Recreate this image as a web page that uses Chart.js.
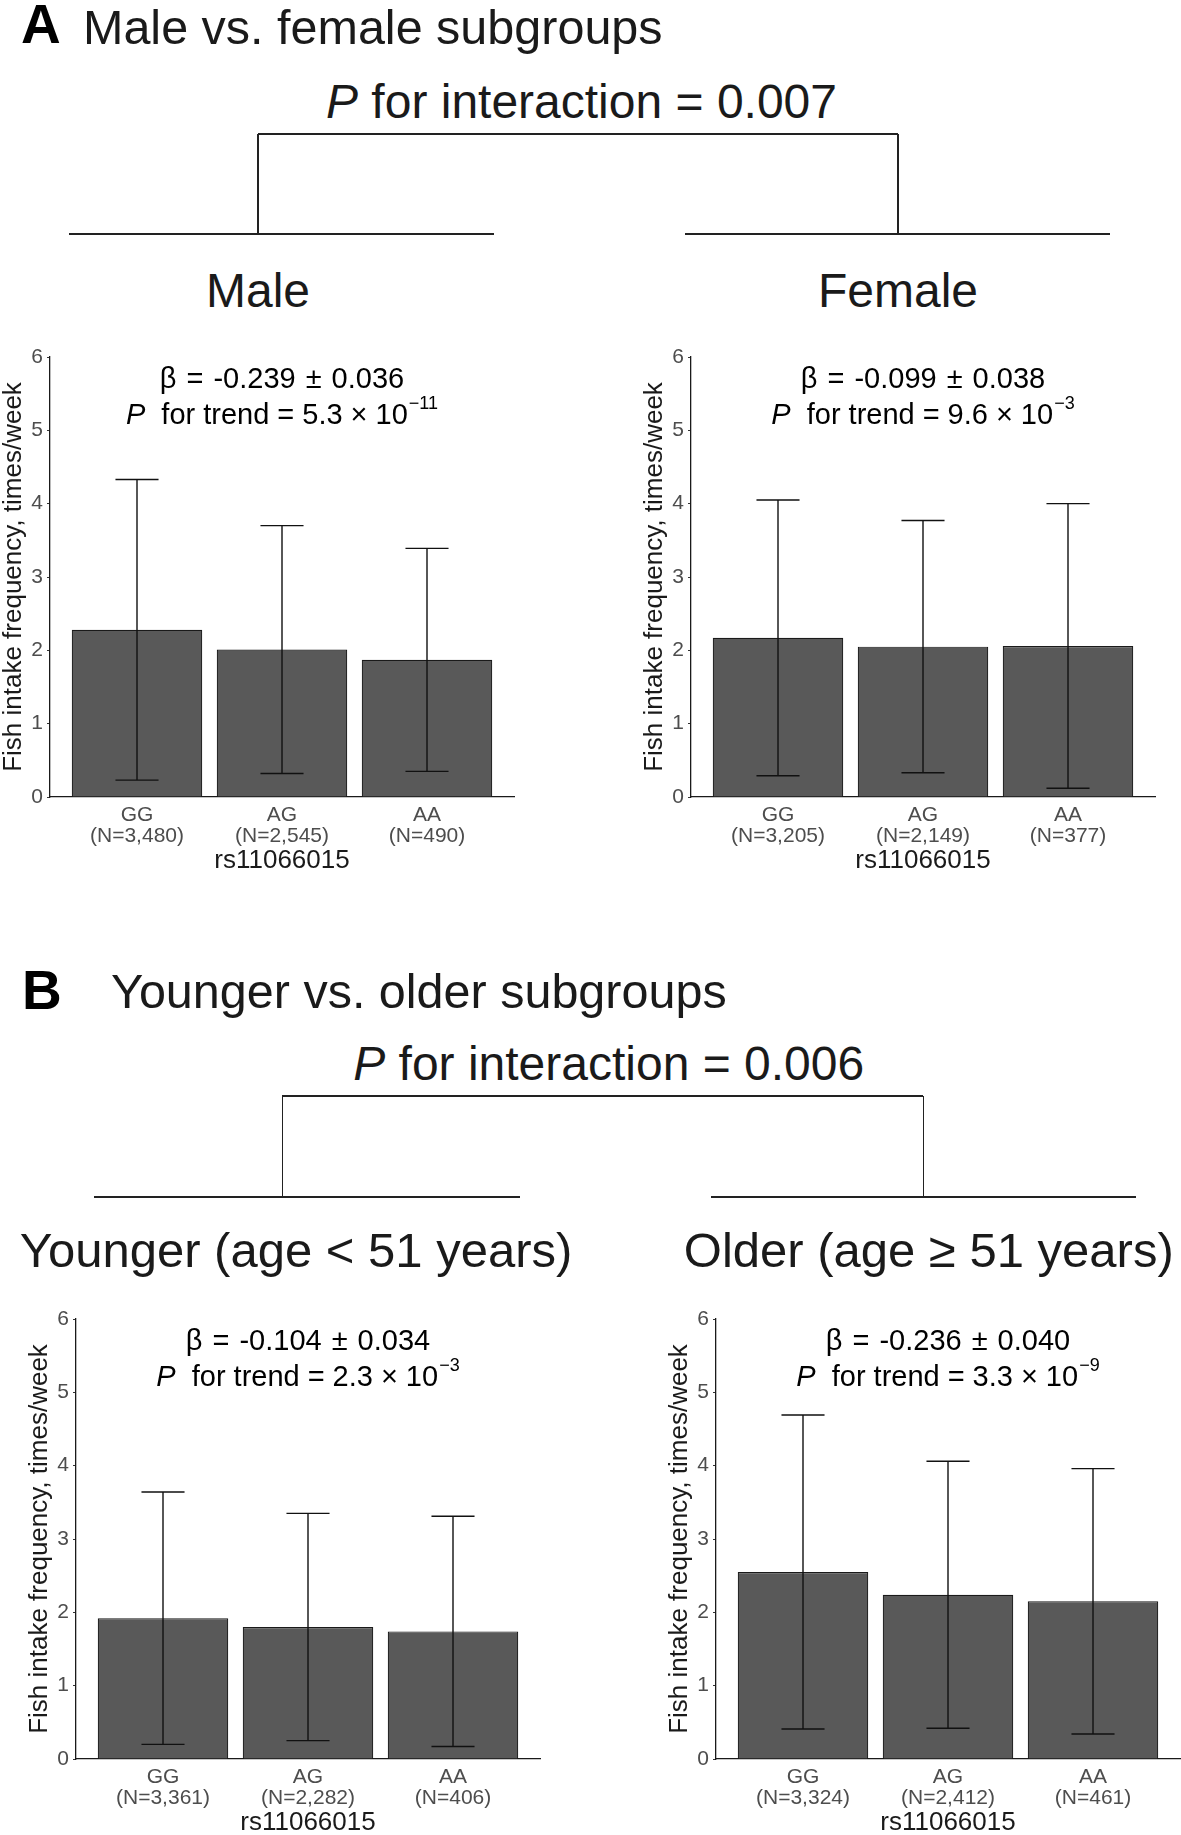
<!DOCTYPE html>
<html>
<head>
<meta charset="utf-8">
<script src="https://cdn.jsdelivr.net/npm/chart.js@4.4.0/dist/chart.umd.min.js"></script>
<style>
html,body{margin:0;padding:0;background:#fff;overflow:hidden;}
#page{position:relative;width:1181px;height:1835px;background:#fff;font-family:"Liberation Sans",Arial,sans-serif;color:#1a1a1a;overflow:hidden;}
.t{position:absolute;white-space:nowrap;line-height:1;font-size:48px;}
.c{transform:translateX(-50%);}
.b{font-weight:bold;font-size:55px;color:#000;}
.ln{position:absolute;background:#222;}
canvas{position:absolute;}
</style>
</head>
<body>
<div id="page">
  <div class="t b" style="left:21px;top:-3px;">A</div>
  <div class="t" style="left:83px;top:3px;font-size:48.5px;">Male vs. female subgroups</div>
  <div class="t c" style="left:581.5px;top:77.7px;"><i>P</i> for interaction = 0.007</div>
  <div class="ln" style="left:257.6px;top:133.3px;width:640.2px;height:2px;"></div>
  <div class="ln" style="left:257px;top:134px;width:1.5px;height:100px;"></div>
  <div class="ln" style="left:897.2px;top:134px;width:1.5px;height:100px;"></div>
  <div class="ln" style="left:69.3px;top:233.3px;width:424.7px;height:2px;"></div>
  <div class="ln" style="left:685.4px;top:233.3px;width:424.6px;height:2px;"></div>
  <div class="t c" style="left:258px;top:267.4px;">Male</div>
  <div class="t c" style="left:898px;top:267.4px;">Female</div>

  <div class="t b" style="left:22px;top:963px;">B</div>
  <div class="t" style="left:111px;top:967.4px;font-size:48.5px;">Younger vs. older subgroups</div>
  <div class="t c" style="left:608.7px;top:1040.4px;"><i>P</i> for interaction = 0.006</div>
  <div class="ln" style="left:282.4px;top:1095px;width:641px;height:2px;"></div>
  <div class="ln" style="left:281.7px;top:1096px;width:1.5px;height:100px;"></div>
  <div class="ln" style="left:922.7px;top:1096px;width:1.5px;height:100px;"></div>
  <div class="ln" style="left:94px;top:1195.7px;width:425.7px;height:2px;"></div>
  <div class="ln" style="left:711px;top:1195.7px;width:424.8px;height:2px;"></div>
  <div class="t c" style="left:296px;top:1226px;font-size:49px;">Younger (age &lt; 51 years)</div>
  <div class="t c" style="left:928.8px;top:1226px;font-size:49px;">Older (age ≥ 51 years)</div>
</div>
<script>
// ---------- data ----------
const genotypes = ['GG', 'AG', 'AA'];
const xPositions = [1, 2, 3];
const yTicks = [0, 1, 2, 3, 4, 5, 6];
const xAxisTitle = 'rs11066015';
const yAxisTitle = 'Fish intake frequency, times/week';

const maleN = ['3,480', '2,545', '490'];
const maleMean = [2.28, 2.01, 1.87];
const maleSD = [2.05, 1.69, 1.52];

const femaleN = ['3,205', '2,149', '377'];
const femaleMean = [2.17, 2.05, 2.06];
const femaleSD = [1.88, 1.72, 1.94];

const youngerN = ['3,361', '2,282', '406'];
const youngerMean = [1.92, 1.80, 1.74];
const youngerSD = [1.72, 1.55, 1.57];

const olderN = ['3,324', '2,412', '461'];
const olderMean = [2.55, 2.24, 2.15];
const olderSD = [2.14, 1.82, 1.81];

const betaEst = ['-0.239', '-0.099', '-0.104', '-0.236'];
const betaSE = ['0.036', '0.038', '0.034', '0.040'];
const pMantissa = ['5.3', '9.6', '2.3', '3.3'];
const pExponent = ['\u221211', '\u22123', '\u22123', '\u22129'];

// ---------- drawing ----------
const FAM = '"Liberation Sans", Arial, sans-serif';
const page = document.getElementById('page');

function drawTokens(ctx, tokens, cx, baseline) {
  let total = 0;
  tokens.forEach(tk => { ctx.font = tk.font; tk.w = ctx.measureText(tk.t).width; total += tk.gap + tk.w; });
  let x = cx - total / 2;
  ctx.textAlign = 'left';
  ctx.textBaseline = 'alphabetic';
  tokens.forEach(tk => { x += tk.gap; ctx.font = tk.font; ctx.fillText(tk.t, x, baseline - (tk.dy || 0)); x += tk.w; });
}

const errBarPlugin = {
  id: 'errbars',
  afterDatasetsDraw(chart, args, opts) {
    const ctx = chart.ctx, ys = chart.scales.y, meta = chart.getDatasetMeta(0);
    const ds = chart.data.datasets[0];
    ctx.save();
    ctx.strokeStyle = '#111';
    ctx.lineWidth = 1.4;
    meta.data.forEach((bar, i) => {
      const m = ds.data[i].y, s = opts.sd[i];
      const yt = ys.getPixelForValue(m + s), yb = ys.getPixelForValue(m - s);
      const hw = bar.width * 0.33 / 2;
      ctx.beginPath();
      ctx.moveTo(bar.x, yt); ctx.lineTo(bar.x, yb);
      ctx.moveTo(bar.x - hw, yt); ctx.lineTo(bar.x + hw, yt);
      ctx.moveTo(bar.x - hw, yb); ctx.lineTo(bar.x + hw, yb);
      ctx.stroke();
    });
    ctx.restore();
  }
};

const statsPlugin = {
  id: 'stats',
  afterDraw(chart, args, opts) {
    const ctx = chart.ctx, a = chart.chartArea;
    const cx = (a.left + a.right) / 2;
    const f = '29px ' + FAM, fi = 'italic 29px ' + FAM, fs = '18px ' + FAM;
    ctx.save();
    ctx.fillStyle = '#000';
    drawTokens(ctx, [
      {t: '\u03B2', font: f, gap: 0},
      {t: '=', font: f, gap: 10},
      {t: opts.beta, font: f, gap: 10},
      {t: '\u00B1', font: f, gap: 10},
      {t: opts.se, font: f, gap: 10}
    ], cx, a.top + 30.5);
    drawTokens(ctx, [
      {t: 'P', font: fi, gap: 0},
      {t: 'for trend', font: f, gap: 16},
      {t: '=', font: f, gap: 8},
      {t: opts.mant, font: f, gap: 8},
      {t: '\u00D7', font: f, gap: 8},
      {t: '10', font: f, gap: 8},
      {t: opts.exp, font: fs, gap: 1, dy: 15}
    ], cx, a.top + 67);
    ctx.restore();
  }
};

function makePanel(p) {
  const cv = document.createElement('canvas');
  cv.width = 525; cv.height = 560;
  cv.style.left = p.left + 'px';
  cv.style.top = p.top + 'px';
  page.appendChild(cv);
  new Chart(cv, {
    type: 'bar',
    data: {
      datasets: [{
        data: xPositions.map((x, i) => ({x: x, y: p.mean[i]})),
        backgroundColor: '#595959',
        borderColor: '#1a1a1a',
        borderWidth: 1.2,
        barPercentage: 0.9,
        categoryPercentage: 1.0
      }]
    },
    options: {
      responsive: false,
      animation: false,
      events: [],
      layout: {padding: {top: 30, right: 1, left: 0, bottom: 0}},
      plugins: {
        legend: {display: false},
        tooltip: {enabled: false},
        errbars: {sd: p.sd},
        stats: {beta: p.beta, se: p.se, mant: p.mant, exp: p.exp}
      },
      scales: {
        x: {
          type: 'linear', min: 0.4, max: 3.6, bounds: 'data', offset: false,
          afterBuildTicks: s => { s.ticks = xPositions.map(v => ({value: v})); },
          afterFit: s => { s.height = 90; },
          grid: {display: false, drawTicks: false, offset: false},
          border: {display: true, color: '#1a1a1a', width: 1.3},
          ticks: {
            autoSkip: false, maxRotation: 0, padding: 7, color: '#4d4d4d',
            font: {family: FAM, size: 21, lineHeight: '21.5px'},
            callback: (v) => { const i = xPositions.indexOf(v); return i < 0 ? '' : [genotypes[i], '(N=' + p.n[i] + ')']; }
          },
          title: {display: true, text: xAxisTitle, color: '#1a1a1a', font: {family: FAM, size: 26, lineHeight: 1}, padding: {top: 0, bottom: 13}}
        },
        y: {
          min: 0, max: 6,
          afterBuildTicks: s => { s.ticks = yTicks.map(v => ({value: v})); },
          afterFit: s => { s.width = 60; },
          grid: {drawOnChartArea: false, drawTicks: true, tickLength: 3, color: '#333', tickColor: '#333', tickWidth: 1},
          border: {display: true, color: '#1a1a1a', width: 1.3},
          ticks: {color: '#4d4d4d', padding: 4, font: {family: FAM, size: 21}},
          title: {display: true, text: yAxisTitle, color: '#1a1a1a', font: {family: FAM, size: 26, lineHeight: 1}, padding: {top: 11, bottom: 0}}
        }
      }
    },
    plugins: [errBarPlugin, statsPlugin]
  });
}

makePanel({left: -10, top: 327, n: maleN, mean: maleMean, sd: maleSD, beta: betaEst[0], se: betaSE[0], mant: pMantissa[0], exp: pExponent[0]});
makePanel({left: 631, top: 327, n: femaleN, mean: femaleMean, sd: femaleSD, beta: betaEst[1], se: betaSE[1], mant: pMantissa[1], exp: pExponent[1]});
makePanel({left: 16, top: 1289, n: youngerN, mean: youngerMean, sd: youngerSD, beta: betaEst[2], se: betaSE[2], mant: pMantissa[2], exp: pExponent[2]});
makePanel({left: 656, top: 1289, n: olderN, mean: olderMean, sd: olderSD, beta: betaEst[3], se: betaSE[3], mant: pMantissa[3], exp: pExponent[3]});
</script>
</body>
</html>
